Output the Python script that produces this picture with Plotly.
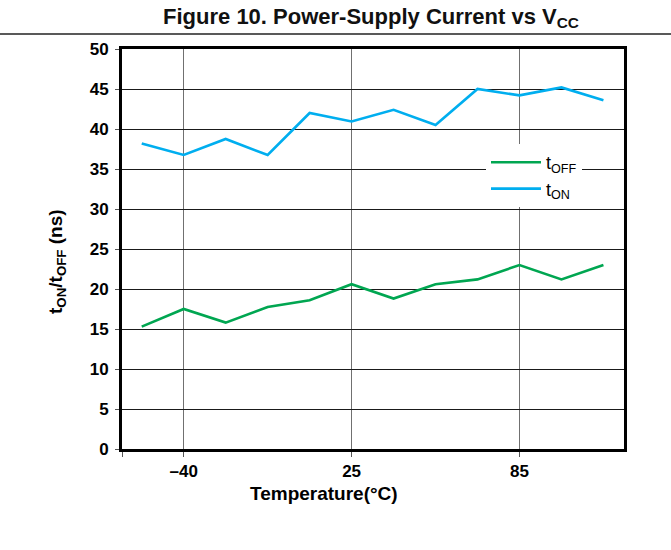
import plotly.graph_objects as go

# ---- data ----
point_index = [0, 1, 2, 3, 4, 5, 6, 7, 8, 9, 10, 11]
t_off = [15.3, 17.5, 15.8, 17.75, 18.6, 20.6, 18.8, 20.6, 21.2, 23.0, 21.2, 23.0]
t_on = [38.2, 36.75, 38.75, 36.75, 42.0, 40.95, 42.4, 40.5, 45.0, 44.2, 45.2, 43.6]
x_tick_vals = [-0.47, 1, 5, 9]
x_tick_text = ["", "\u201340", "25", "85"]
y_tick_vals = [0, 5, 10, 15, 20, 25, 30, 35, 40, 45, 50]

FONT = "Liberation Sans, Arial, Helvetica, sans-serif"
GREEN = "#00A651"
BLUE = "#00AEEF"

fig = go.Figure()
fig.add_trace(go.Scatter(x=point_index, y=t_off, mode="lines", name="t<sub>OFF</sub>",
                         line=dict(color=GREEN, width=2.6)))
fig.add_trace(go.Scatter(x=point_index, y=t_on, mode="lines", name="t<sub>ON</sub>",
                         line=dict(color=BLUE, width=2.6)))

fig.update_layout(
    width=671, height=550,
    margin=dict(l=122, r=47, t=49, b=101),
    paper_bgcolor="white", plot_bgcolor="white",
    font=dict(family=FONT, color="black"),
    title=dict(text="Figure 10. Power-Supply Current vs V<sub>CC</sub>",
               xref="container", yref="container", x=371/671, y=1-16/550,
               xanchor="center", yanchor="middle",
               font=dict(size=22, family=FONT, weight="bold", color="#111")),
    showlegend=True,
    legend=dict(x=(486-122)/502, y=1-(144-49)/400, xanchor="left", yanchor="top",
                bgcolor="white", borderwidth=0, font=dict(size=18, family=FONT),
                itemwidth=50, tracegroupgap=0),
)

fig.update_xaxes(
    range=[-0.47, 11.49], tickmode="array", tickvals=x_tick_vals, ticktext=x_tick_text,
    showgrid=True, gridcolor="#707070", gridwidth=1,
    showline=True, linecolor="black", linewidth=3, mirror=True,
    ticks="outside", ticklen=5, tickcolor="#555", tickwidth=1,
    tickfont=dict(size=17, family=FONT, weight="bold"), zeroline=False,
)
fig.update_yaxes(
    range=[0, 50], tickmode="array", tickvals=y_tick_vals,
    showgrid=True, gridcolor="#1a1a1a", gridwidth=1,
    showline=True, linecolor="black", linewidth=3, mirror=True,
    ticks="outside", ticklen=4, tickcolor="#555", tickwidth=1, ticklabelstandoff=3,
    tickfont=dict(size=17, family=FONT, weight="bold"), zeroline=False,
)

# axis titles as annotations (offset from plot center as in the reference)
fig.add_annotation(text="Temperature(\u00b0C)", xref="paper", yref="paper",
                   x=(324-122)/502, y=-(493-449)/400, xanchor="center", yanchor="middle",
                   showarrow=False, font=dict(size=19, family=FONT, weight="bold"))
fig.add_annotation(text="t<sub>ON</sub>/t<sub>OFF</sub> (ns)", xref="paper", yref="paper",
                   x=-(122-57)/502, y=1-(262-49)/400, xanchor="center", yanchor="middle",
                   textangle=-90, showarrow=False,
                   font=dict(size=19, family=FONT, weight="bold"))

# horizontal rule under the title
fig.add_shape(type="line", xref="paper", yref="paper",
              x0=-122/502, x1=(671-122)/502, y0=1+(49-34)/400, y1=1+(49-34)/400,
              line=dict(color="#222", width=1.5))

fig.write_html("out.html", config={"displayModeBar": False},
               post_script="document.body.style.margin='0';")
